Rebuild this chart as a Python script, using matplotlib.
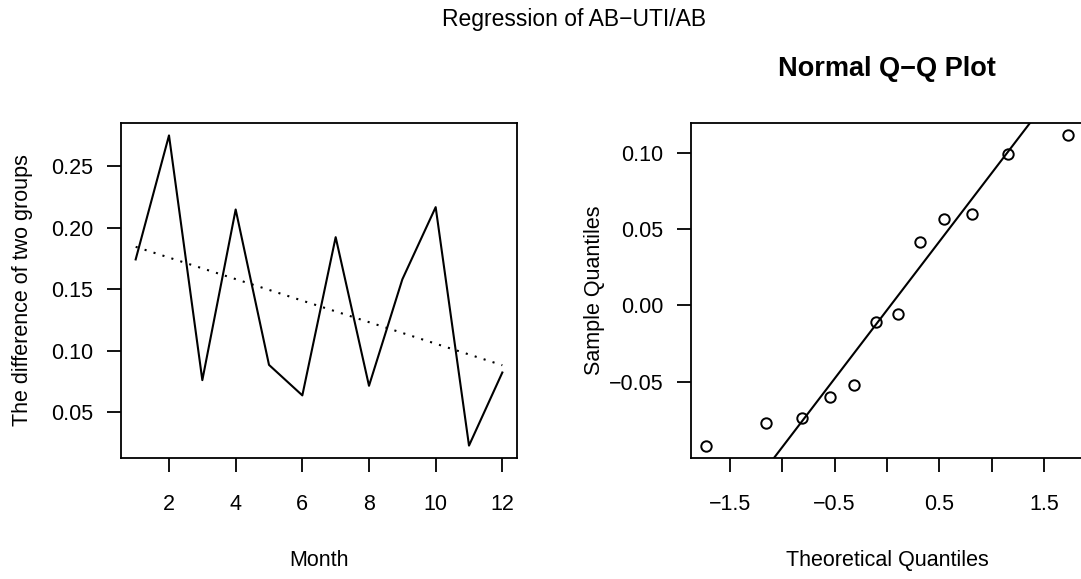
import matplotlib
matplotlib.use("Agg")
import matplotlib.pyplot as plt
import numpy as np
from statistics import NormalDist

plt.rcParams['font.family'] = ['Liberation Sans', 'DejaVu Sans']

# left panel: monthly difference of the two groups
month = [1, 2, 3, 4, 5, 6, 7, 8, 9, 10, 11, 12]
diff = [0.1743, 0.2751, 0.0762, 0.2149, 0.0886, 0.0638,
        0.1924, 0.0716, 0.1581, 0.2168, 0.0230, 0.0824]

# right panel: sorted sample quantiles (residuals)
sample_q = [-0.0920, -0.0774, -0.0739, -0.0604, -0.0521, -0.0107,
            -0.0057, 0.0414, 0.0567, 0.0600, 0.0994, 0.1114]

left_xticks = [2, 4, 6, 8, 10, 12]
left_yticks = [0.05, 0.10, 0.15, 0.20, 0.25]
qq_xticks = [-1.5, -1.0, -0.5, 0.0, 0.5, 1.0, 1.5]
qq_xlabels = ['\u22121.5', '', '\u22120.5', '', '0.5', '', '1.5']
qq_yticks = [-0.05, 0.0, 0.05, 0.10]
qq_ylabels = ['\u22120.05', '0.00', '0.05', '0.10']

W, H = 1081, 579
fig = plt.figure(figsize=(W / 100, H / 100), dpi=100)

ax1 = fig.add_axes([121 / W, (H - 458) / H, 396 / W, 335 / H])
ax2 = fig.add_axes([691 / W, (H - 458) / H, 392 / W, 335 / H])

fs = 15.5
lw = 1.5

# regression panel
ax1.plot(month, diff, color='black', lw=lw)
slope, icept = np.polyfit(month, diff, 1)
fit = [icept + slope * m for m in month]
ax1.plot(month, fit, color='black', lw=1.5, linestyle=(0, (1, 3.5)))
ax1.margins(x=0.04, y=0.04)
ax1.set_xticks(left_xticks)
ax1.set_xticklabels([str(t) for t in left_xticks])
ax1.set_yticks(left_yticks)
ax1.set_yticklabels(['%.2f' % t for t in left_yticks])
ax1.set_xlabel('Month', fontsize=fs, va='baseline')
ax1.xaxis.set_label_coords(0.5, (458 - 566) / 335)
ax1.set_ylabel('The difference of two groups', fontsize=fs, va='center')
ax1.yaxis.set_label_coords((23 - 121) / 396, 0.5)

# Q-Q panel
n = len(sample_q)
theo = [NormalDist().inv_cdf((i + 0.5) / n) for i in range(n)]
ax2.plot(theo, sample_q, linestyle='none', marker='o', markersize=7.5,
         markerfacecolor='none', markeredgecolor='black', markeredgewidth=1.4)
q1, q3 = np.quantile(sample_q, [0.25, 0.75])
z1, z3 = NormalDist().inv_cdf(0.25), NormalDist().inv_cdf(0.75)
qslope = (q3 - q1) / (z3 - z1)
ax2.axline((z1, q1), slope=qslope, color='black', lw=lw)
ax2.margins(x=0.04, y=0.04)
ax2.set_xticks(qq_xticks)
ax2.set_xticklabels(qq_xlabels)
ax2.set_yticks(qq_yticks)
ax2.set_yticklabels(qq_ylabels)
ax2.set_xlabel('Theoretical Quantiles', fontsize=fs, va='baseline')
ax2.xaxis.set_label_coords(0.5, (458 - 566) / 335)
ax2.set_ylabel('Sample Quantiles', fontsize=fs, va='center')
ax2.yaxis.set_label_coords((594 - 691) / 392, 0.5)
ax2.set_title('Normal Q\u2212Q Plot', fontsize=19.5, fontweight='bold', pad=34)

for ax in (ax1, ax2):
    for s in ax.spines.values():
        s.set_linewidth(1.3)
    ax.tick_params(axis='both', direction='out', length=10, width=1.3,
                   labelsize=fs, colors='black')
    ax.tick_params(axis='x', pad=16)
    ax.tick_params(axis='y', pad=10)

fig.text(574 / W, 1 - 26 / H, 'Regression of AB\u2212UTI/AB', fontsize=16.5,
         ha='center', va='baseline')

fig.savefig('out.png', dpi=100)
